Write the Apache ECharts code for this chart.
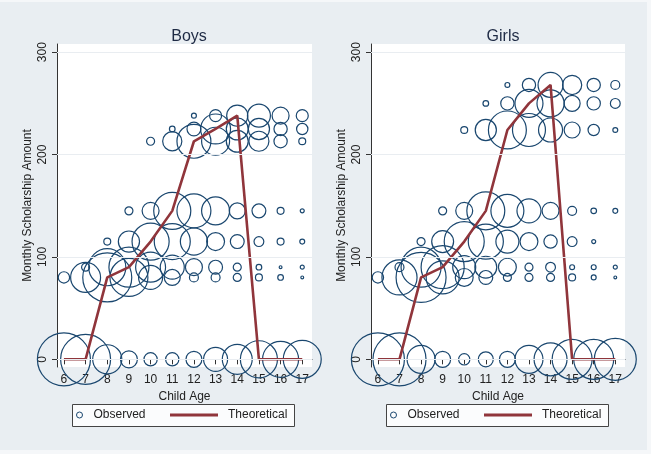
<!DOCTYPE html>
<html>
<head>
<meta charset="utf-8">
<script src="https://cdn.jsdelivr.net/npm/echarts@6/dist/echarts.min.js"></script>
<style>
  html, body { margin: 0; padding: 0; background: #f5f7f9; }
  #main { width: 651px; height: 454px; }
</style>
</head>
<body>
<div id="main"></div>
<script>
// ages on the x axis
var ages = [6, 7, 8, 9, 10, 11, 12, 13, 14, 15, 16, 17];
var yTicks = [0, 100, 200, 300];

// amount levels where observations sit
var boyLevels = [0, 80, 90, 115, 145, 213, 225, 238];
var girlLevels = [0, 80, 90, 115, 145, 224, 250, 268];

// number of children per level (rows) and age (columns)
var boyCounts = [
  [176, 156, 53, 18, 11, 11, 16, 36, 56, 86, 81, 90],
  [8, 56, 150, 90, 36, 16, 5, 5, 4, 3, 2, 0.5],
  [0, 4, 86, 100, 56, 36, 18, 12, 4, 2, 0.5, 1],
  [0, 0, 3, 28, 86, 81, 46, 20, 12, 6, 3, 1.5],
  [0, 0, 0, 4, 18, 86, 72, 49, 16, 12, 3, 1],
  [0, 0, 0, 0, 4, 23, 72, 49, 30, 25, 11, 3],
  [0, 0, 0, 0, 0, 2, 12, 56, 30, 28, 11, 8],
  [0, 0, 0, 0, 0, 0, 1.5, 9, 28, 33, 18, 9]
];
var girlCounts = [
  [176, 176, 49, 16, 8, 14, 16, 49, 68, 100, 100, 110],
  [8, 77, 156, 68, 20, 12, 4, 4, 4, 3, 1.5, 0.5],
  [0, 5, 100, 116, 33, 30, 20, 4, 6, 1.5, 1.5, 1],
  [0, 0, 4, 30, 100, 77, 33, 20, 11, 6, 1, 0],
  [0, 0, 0, 4, 18, 90, 68, 36, 18, 5, 2, 1.5],
  [0, 0, 0, 0, 3, 28, 90, 68, 36, 16, 8, 1.5],
  [0, 0, 0, 0, 0, 2, 11, 49, 46, 16, 11, 6],
  [0, 0, 0, 0, 0, 0, 1.5, 11, 39, 23, 11, 5]
];

// theoretical scholarship by age
var boyTheory = [0, 0, 80, 90, 115, 145, 213, 225, 238, 0, 0, 0];
var girlTheory = [0, 0, 80, 90, 115, 145, 224, 250, 268, 0, 0, 0];

var font = 'Liberation Sans, Arial, sans-serif';
var navy = '#1a476f';
var maroon = '#90353b';

function bubbles(levels, counts) {
  var out = [];
  levels.forEach(function (lv, i) {
    ages.forEach(function (a, j) {
      if (counts[i][j] > 0) out.push([a, lv, counts[i][j]]);
    });
  });
  return out;
}

function pairs(vals) {
  return ages.map(function (a, i) { return [a, vals[i]]; });
}

function xAxis(idx) {
  return {
    type: 'value', gridIndex: idx, min: 5.68, max: 17.45,
    name: 'Child Age', nameLocation: 'middle', nameGap: 19,
    nameTextStyle: { fontFamily: font, fontSize: 12, color: '#222' },
    axisLine: { lineStyle: { color: '#333', width: 1 } },
    axisTick: { customValues: ages, length: 5, lineStyle: { color: '#333' } },
    axisLabel: { customValues: ages, margin: 7, fontFamily: font, fontSize: 12, color: '#222' },
    splitLine: { show: false }
  };
}

function yAxis(idx) {
  return {
    type: 'value', gridIndex: idx, min: -7.5, max: 308,
    name: 'Monthly Scholarship Amount', nameLocation: 'middle', nameGap: 23,
    nameTextStyle: { fontFamily: font, fontSize: 12, color: '#222' },
    axisLine: { show: true, lineStyle: { color: '#333', width: 1 } },
    axisTick: { show: true, customValues: yTicks, length: 5, lineStyle: { color: '#333' } },
    axisLabel: { customValues: yTicks, rotate: 90, margin: 8, fontFamily: font, fontSize: 12, color: '#222' },
    splitLine: { show: false }
  };
}

function gridLines() {
  return {
    silent: true, symbol: 'none', label: { show: false },
    lineStyle: { color: '#e9edf1', width: 1, type: 'solid' },
    data: yTicks.map(function (t) { return { yAxis: t }; })
  };
}

function obsSeries(idx, levels, counts) {
  return {
    name: 'Observed', type: 'scatter', xAxisIndex: idx, yAxisIndex: idx,
    data: bubbles(levels, counts),
    symbol: 'circle',
    symbolSize: function (v) { return 4 * Math.sqrt(v[2]); },
    itemStyle: { color: 'rgba(0,0,0,0)', borderColor: navy, borderWidth: 1.2, opacity: 1 },
    emphasis: { disabled: true },
    markLine: gridLines(),
    z: 2
  };
}

function theorySeries(idx, vals) {
  return {
    name: 'Theoretical', type: 'line', xAxisIndex: idx, yAxisIndex: idx,
    data: pairs(vals), symbol: 'none', showSymbol: false,
    lineStyle: { color: maroon, width: 2.6 },
    itemStyle: { color: maroon },
    emphasis: { disabled: true },
    z: 3
  };
}

function legendPair(dx) {
  var text = { fontFamily: font, fontSize: 12, color: '#222' };
  return [
    {
      top: 409, left: 76 + dx, padding: 0, selectedMode: false, z: 10,
      itemWidth: 6, itemHeight: 12,
      data: [{ name: 'Observed', icon: 'circle',
        itemStyle: { color: 'rgba(0,0,0,0)', borderColor: navy, borderWidth: 1 } }],
      textStyle: Object.assign({}, text, { padding: [0, 0, 0, 6] })
    },
    {
      top: 409, left: 170 + dx, padding: 0, selectedMode: false, z: 10,
      itemWidth: 48, itemHeight: 3,
      data: [{ name: 'Theoretical', icon: 'rect', itemStyle: { color: maroon, borderWidth: 0 } }],
      textStyle: Object.assign({}, text, { padding: [0, 0, 0, 5] })
    }
  ];
}

var chart = echarts.init(document.getElementById('main'));
chart.setOption({
  backgroundColor: 'transparent',
  animation: false,
  title: [
    { text: 'Boys', left: 184, top: 24, textAlign: 'center',
      textStyle: { fontFamily: font, fontSize: 16, fontWeight: 'normal', color: '#1e2a44' } },
    { text: 'Girls', left: 498, top: 24, textAlign: 'center',
      textStyle: { fontFamily: font, fontSize: 16, fontWeight: 'normal', color: '#1e2a44' } }
  ],
  graphic: [
    { type: 'rect', z: -100, shape: { x: 0, y: 2, width: 647, height: 448 }, style: { fill: '#e9eef2' }, silent: true },
    { type: 'rect', z: 1, shape: { x: 72.5, y: 404.5, width: 222, height: 22 }, style: { fill: '#fbfcfd', stroke: '#444', lineWidth: 1 }, silent: true },
    { type: 'rect', z: 1, shape: { x: 386.5, y: 404.5, width: 222, height: 22 }, style: { fill: '#fbfcfd', stroke: '#444', lineWidth: 1 }, silent: true }
  ],
  legend: legendPair(0).concat(legendPair(314)),
  grid: [
    { left: 57, top: 44, width: 255, height: 323, show: true, backgroundColor: '#fff', borderWidth: 0 },
    { left: 371, top: 44, width: 254, height: 323, show: true, backgroundColor: '#fff', borderWidth: 0 }
  ],
  xAxis: [xAxis(0), xAxis(1)],
  yAxis: [yAxis(0), yAxis(1)],
  series: [
    obsSeries(0, boyLevels, boyCounts),
    theorySeries(0, boyTheory),
    obsSeries(1, girlLevels, girlCounts),
    theorySeries(1, girlTheory)
  ]
});
</script>
</body>
</html>
